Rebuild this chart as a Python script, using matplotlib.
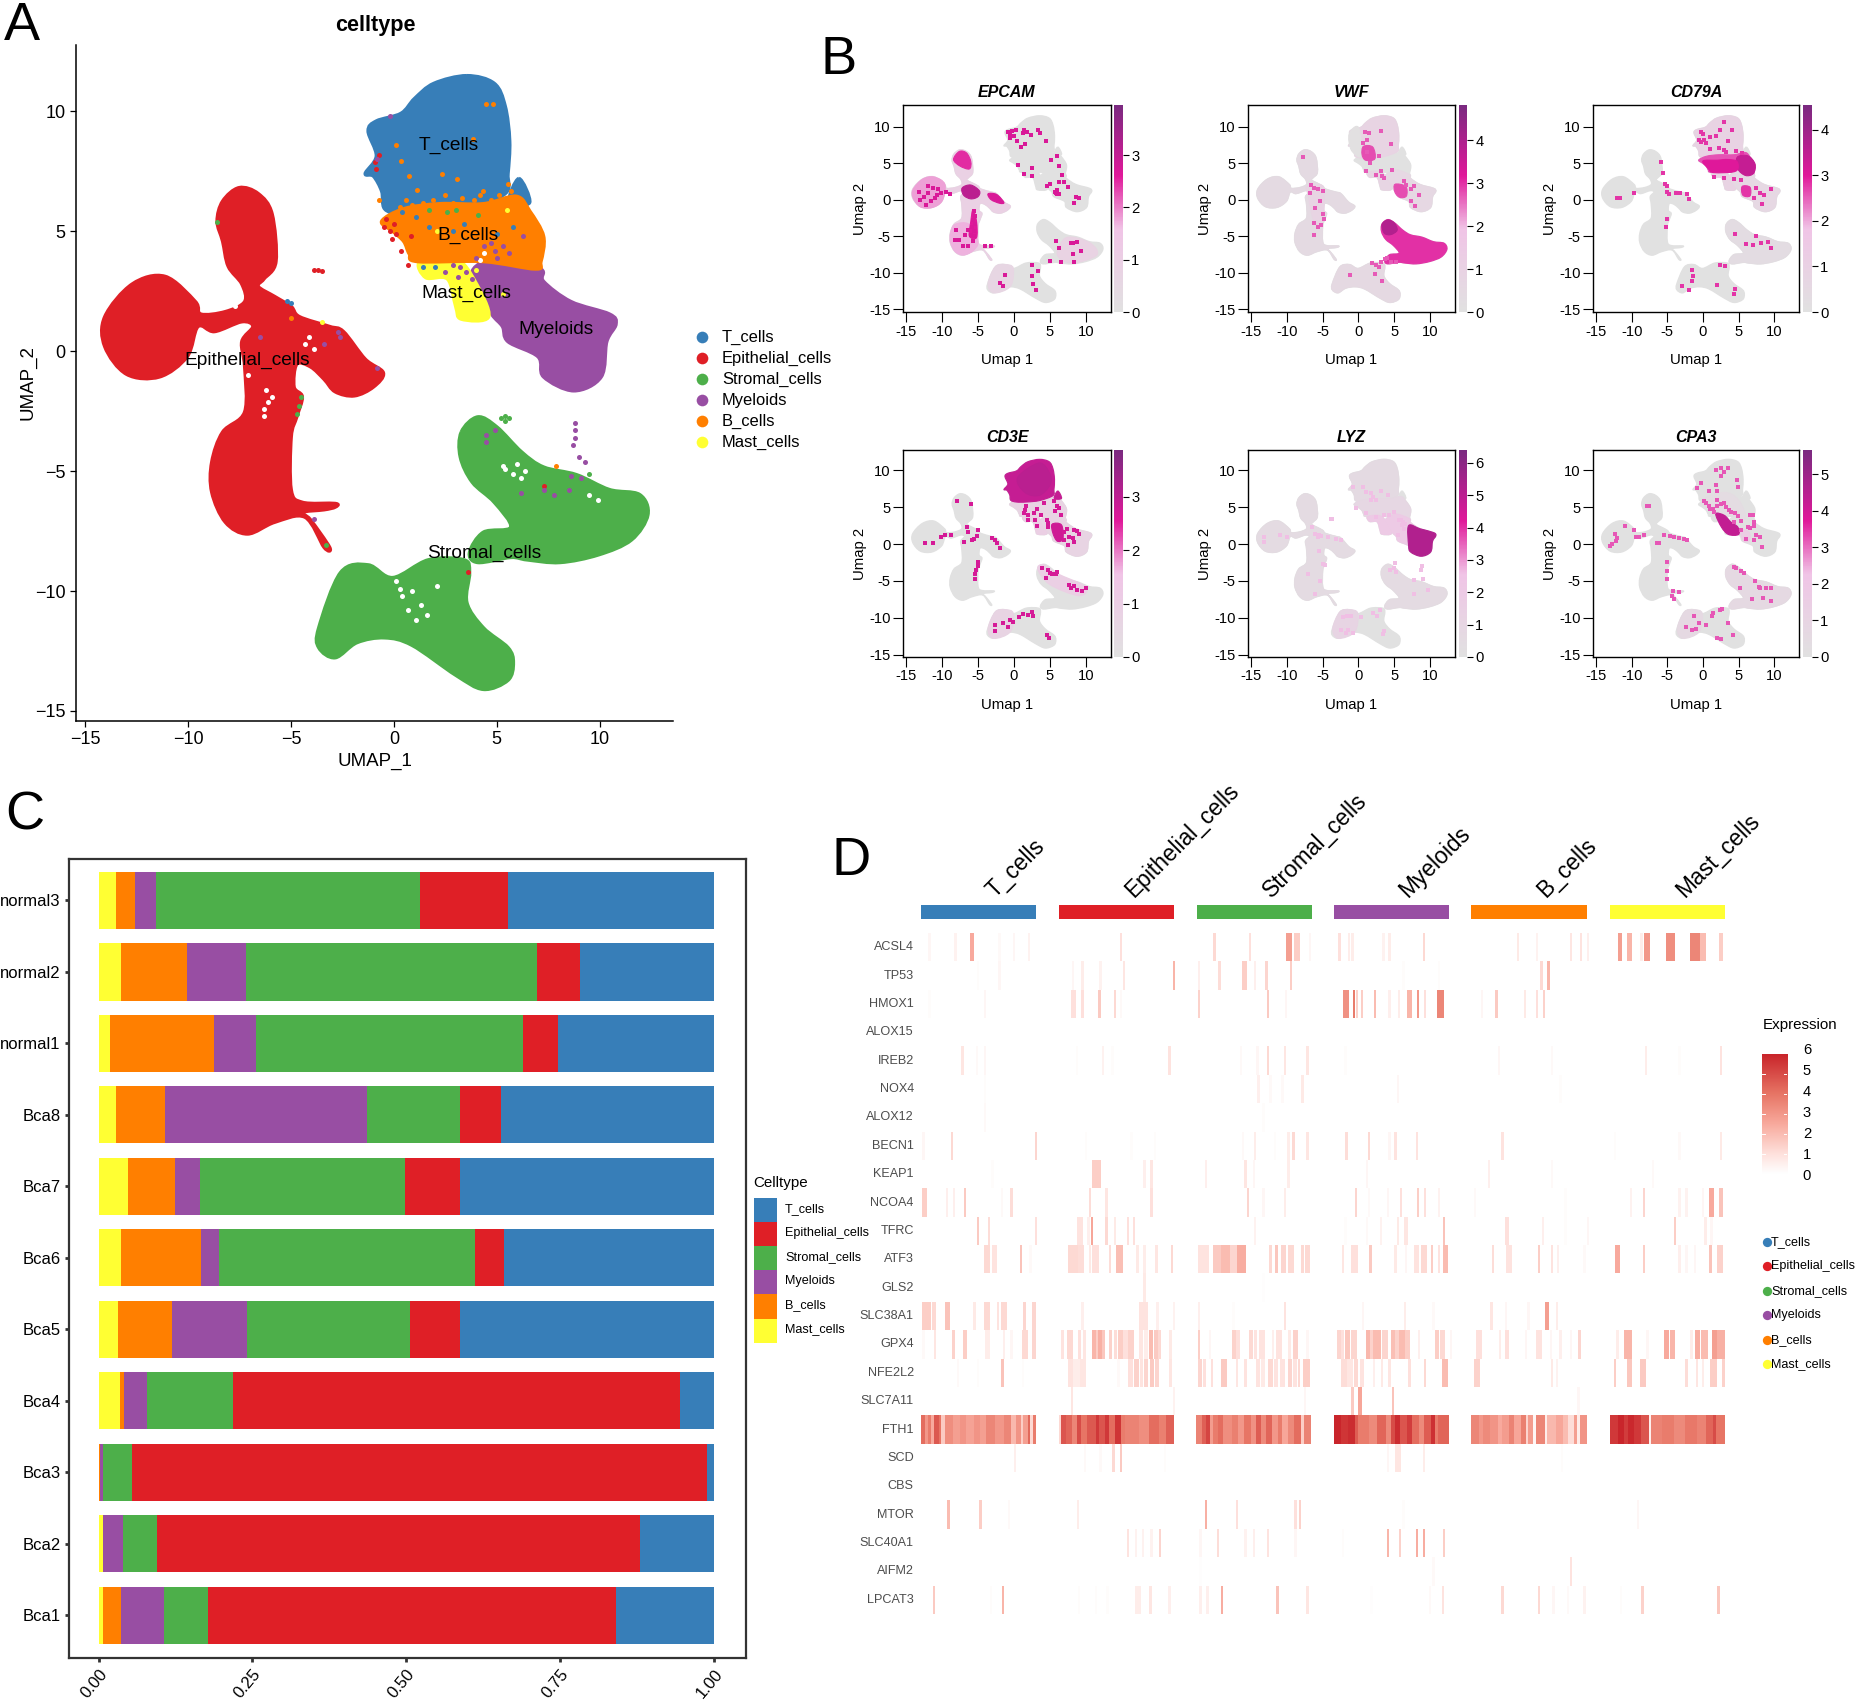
import numpy as np
import matplotlib
matplotlib.use("Agg")
import matplotlib.pyplot as plt
from matplotlib.path import Path
from matplotlib.patches import PathPatch, Rectangle
from matplotlib.colors import LinearSegmentedColormap, Normalize
from matplotlib.cm import ScalarMappable

plt.rcParams['font.family'] = ['Liberation Sans', 'DejaVu Sans']

W, H = 1859, 1700

# cell types
celltypes = ["T_cells", "Epithelial_cells", "Stromal_cells", "Myeloids", "B_cells", "Mast_cells"]
set1 = ["#377EB8", "#DF1F26", "#4DAF4A", "#984EA3", "#FF7F00", "#FFFF33"]

# umap cluster outlines
t_outline = [(3.55,11.49),(4.88,11.17),(5.41,10.23),(5.63,8.77),(5.55,7.41),(5.41,6.57),(3.55,5.9),(1.68,5.7),
             (0.35,5.7),(-0.45,5.94),(-0.59,6.67),(-0.99,7.3),(-1.39,7.41),(-0.85,8.14),(-1.25,9.18),(-0.85,9.6),
             (0.35,9.92),(1.01,10.54),(1.95,11.17)]
t_bump = [(6.08,7.2),(6.6,6.2),(5.6,6.2)]
b_outline = [(0.48,5.94),(2.21,6.15),(4.35,6.15),(5.95,6.46),(6.61,5.84),(7.28,4.79),(7.15,3.74),(6.88,3.43),
             (4.35,3.74),(1.15,3.74),(0.75,4.06),(0.48,4.58),(-0.05,5.0),(-0.59,5.42)]
mast_outline = [(1.28,3.74),(3.01,3.85),(3.95,2.91),(4.61,1.44),(3.28,1.34),(3.01,1.86),(2.61,3.01),(1.55,3.07)]
myeloid_outline = [(4.35,3.74),(5.41,4.06),(7.15,3.43),(7.28,2.91),(8.61,2.07),(10.48,1.55),(10.8,1.13),(10.35,0.4),
                   (10.08,-1.07),(8.75,-1.65),(7.28,-1.07),(7.01,-0.23),(5.55,0.4),(5.28,1.03),(4.75,1.55),(3.95,2.7),(3.81,3.33)]
epi_outline = [(-8.59,5.42),(-8.32,6.26),(-7.52,6.82),(-6.59,6.57),(-5.92,5.73),(-5.73,3.74),(-6.32,3.01),(-6.59,2.7),
               (-5.79,2.28),(-4.99,1.86),(-4.59,1.44),(-3.12,1.03),(-2.45,0.82),(-1.39,-0.33),(-0.51,-0.9),(-0.99,-1.49),
               (-1.92,-1.86),(-2.85,-1.69),(-3.39,-1.17),(-4.05,-0.65),(-4.72,-0.54),(-4.85,-1.49),(-4.45,-1.9),(-4.72,-2.74),
               (-4.99,-3.58),(-4.99,-5.77),(-4.45,-6.3),(-2.85,-6.35),(-2.85,-6.5),(-3.39,-6.61),(-4.45,-6.72),(-4.05,-7.03),
               (-3.12,-8.18),(-3.39,-8.18),(-4.32,-6.92),(-5.79,-7.13),(-7.12,-7.62),(-8.19,-7.13),(-8.85,-5.88),(-8.85,-4.62),
               (-8.32,-3.37),(-7.25,-2.53),(-7.25,-0.65),(-7.39,0.4),(-6.85,1.03),(-7.39,1.23),(-8.72,0.82),(-9.52,1.03),
               (-10.05,-0.23),(-11.39,-1.07),(-12.99,-0.96),(-14.05,0.19),(-14.05,1.44),(-12.72,2.8),(-11.12,3.12),(-9.65,2.07),
               (-9.39,1.55),(-8.19,1.65),(-7.25,2.07),(-7.39,2.8),(-8.05,3.54),(-8.32,4.58)]
stromal_up_outline = [(3.28,-3.37),(4.08,-2.74),(5.01,-3.16),(6.21,-4.2),(7.28,-4.83),(8.88,-5.15),(10.48,-5.77),(11.95,-5.98),
                      (12.35,-6.82),(11.55,-7.87),(9.95,-8.49),(8.08,-8.81),(6.48,-8.7),(5.68,-8.6),(4.08,-8.81),(3.68,-8.39),
                      (4.35,-7.55),(5.68,-7.34),(4.88,-6.3),(3.81,-5.46),(3.23,-4.41)]
stromal_low_outline = [(-3.65,-11.53),(-2.59,-9.23),(-1.25,-8.91),(-0.05,-9.44),(1.68,-8.7),(3.41,-8.7),(3.68,-9.23),(3.55,-10.48),
                       (4.35,-11.53),(5.55,-12.36),(5.81,-12.99),(5.55,-13.72),(4.35,-14.1),(3.01,-13.51),(0.88,-12.26),
                       (-0.45,-11.95),(-1.79,-12.15),(-2.85,-12.78),(-3.65,-12.36)]

# stray cells in panel A
orange_specks = [(0.35,7.93),(0.75,7.3),(1.15,6.72),(2.35,7.41),(3.07,7.2),(4.48,10.33),(4.8,10.3),(3.87,8.87),(4.35,6.67),(5.55,6.99),
                 (5.68,6.67),(-5.0,1.4),(7.9,-4.8),(0.6,6.3),(1.4,6.2),(2.5,6.5),(3.3,6.4),(4.7,6.3),(0.1,8.6),(-0.2,5.7),
                 (0.9,6.1),(1.9,6.3),(2.9,6.2),(3.9,6.3),(5.1,6.5),(5.5,6.3),(0.3,6.0),(4.2,6.5),(-0.7,6.3)]
red_specks = [(-0.9,7.9),(-0.85,7.6),(-0.7,8.2),(-0.5,5.2),(-0.2,5.0),(-0.1,4.7),(0.1,4.9),(0.35,4.2),(0.7,3.6),(-0.4,5.5),
              (3.6,-9.2),(0.85,4.8),(0.0,5.3),(-3.9,3.4),(-3.7,3.4),(-3.5,3.35),(7.3,-5.6)]
green_specks = [(-8.6,5.4),(-4.5,-1.9),(-4.6,-2.3),(-4.7,-2.6),(-3.3,-8.1),(1.7,5.9),(2.6,5.8),(3.0,5.9),(4.1,5.7),
                (5.4,-2.7),(5.4,-2.9),(5.2,-2.8),(5.6,-2.8),(9.5,-5.1)]
purple_specks = [(-6.5,0.6),(-3.4,0.3),(-2.7,0.8),(-2.6,0.6),(-0.8,-0.7),(-0.2,9.8),(-0.8,8),(4.9,-3.3),(4.5,-3.5),(4.5,-3.8),
                 (8.8,-3),(8.8,-3.3),(8.8,-3.6),(8.7,-3.9),(9,-4.4),(9.3,-4.6),(8.6,-5.2),(9.1,-5.3),(8.5,-5.8),(7.3,-5.8),(7.8,-6),
                 (6.2,-5.9),(2.9,3.6),(3.2,3.5),(4,3.9),(3.1,3.1),(2.5,3.3),(3.8,3),(5,3.9),(5.6,4.1),(4.7,4.5),(6.3,4.8),(-3.9,-7.0),
                 (4.4,4.4),(4.9,4.2),(5.3,4.4),(3.5,3.3)]
blue_specks = [(-5.2,2.1),(-5,2.0),(0.4,5.8),(1.1,5.6),(1.7,5.2),(2.9,5.0),(5,4.9),(2,3.5),(1.4,3.5),(3.4,5.3),(5.8,5.2)]
yellow_specks = [(-3.5,1.2),(5.3,2.4),(5.5,5.9),(4,3.4),(2.1,5.0)]
hole_specks = [(5.4,-4.9),(5.8,-5.1),(6.0,-4.7),(6.2,-5.3),(5.3,-4.8),(6.4,-5.0),(9.9,-6.2),(9.5,-6.0),(0.1,-9.6),(0.4,-10.2),
               (0.7,-10.8),(1.1,-11.2),(0.9,-10.0),(1.3,-10.6),(0.3,-9.9),(1.6,-11.0),(2.1,-9.8),(-6.2,-1.6),(-6.1,-2.1),(-6.3,-2.7),
               (-5.9,-1.9),(-6.3,-2.4),(-4.3,0.3),(-3.9,0.1),(-4.1,0.6),(-7.7,1.9),(-7.1,-1.0),(4.4,4.1),(4.2,3.8)]

# cluster labels in panel A
label_names = ["T_cells", "B_cells", "Mast_cells", "Myeloids", "Epithelial_cells", "Stromal_cells"]
label_x = [2.67, 3.6, 3.55, 7.87, -7.15, 4.4]
label_y = [8.58, 4.85, 2.41, 0.92, -0.4, -8.43]

# feature plots
genes = ["EPCAM", "VWF", "CD79A", "CD3E", "LYZ", "CPA3"]
gene_max = [3.96, 4.82, 4.54, 3.88, 6.4, 5.67]
gene_ticks = [[0,1,2,3], [0,1,2,3,4], [0,1,2,3,4], [0,1,2,3], [0,1,2,3,4,5,6], [0,1,2,3,4,5]]
spot_level = [2.7, 2.7, 2.8, 2.7, 2.6, 3.2]

epcam_patches = [
    (epi_outline, 0.9),
    ([(-14,0.2),(-14,1.4),(-12.7,2.8),(-11.1,3.1),(-9.6,2.1),(-10,-0.2),(-11.4,-1.1),(-13,-1)], 1.8),
    ([(-8.8,-4.6),(-8.2,-3.4),(-6.2,-3.4),(-5.0,-5.8),(-5.8,-7.1),(-7.1,-7.6),(-8.2,-7.1),(-8.8,-5.9)], 1.7),
    ([(-8.4,5.5),(-7.6,6.6),(-6.6,6.4),(-6.0,5.2),(-6.2,4.2),(-7.5,4.6)], 2.5),
    ([(-7.2,1.6),(-6.0,2.0),(-4.8,1.2),(-5.0,0.4),(-6.0,0.1),(-7.0,0.6)], 3.1),
    ([(-3.6,0.8),(-2.4,0.7),(-1.4,-0.4),(-2,-0.5),(-3.2,0)], 2.7),
    ([(-5.7,-1.4),(-5.2,-3),(-5.2,-5.2),(-6.2,-5),(-6.0,-3)], 2.6),
    ([(7.3,-5.2),(10.5,-5.9),(11.5,-7.6),(8,-8.7),(6,-7.5)], 0.8),
    ([(-3.6,-11.5),(-2.6,-9.2),(-1.2,-8.9),(-0.1,-9.4),(-0.5,-11.9),(-2.8,-12.8)], 0.6),
]
epcam_spots = [(-0.9,9.3),(-0.5,9.0),(-0.3,9.4),(-0.6,8.4),(0,8.7),(0.3,9.6),(0.4,8.1),(1.2,9.1),(1.4,9.6),(1.8,9.2),(2.3,8.9),(3.3,9.6),
               (3.6,9.1),(1.0,7.2),(1.5,7.6),(4.4,8.0),(6.0,6.0),(5.2,5.4),(6.3,4.6),(2.5,3.3),(0.5,4.7),(1.4,3.5),(2.5,4.3),(6.7,3.4),
               (5.0,2.2),(6.2,2.4),(6.9,2.4),(4.6,1.9),(5.8,1.1),(6.0,0.8),(7.5,1.7),(8.6,0.4),(8.3,-0.4),(9.0,0.2),(5.7,1.1),(5.9,0.9),
               (6.0,1.3),(6.2,0.7),(-5.6,-1.6),(-5.4,-2.2),(-5.7,-2.8),(-5.4,-3.4),(-5.8,-3.8),(-5.5,-4.3),(-6.0,-4.8),(-5.6,-5.0),(-6.4,-4.1),
               (-5.7,-5.7),(-6.4,-6.3),(-4.0,-6.4),(-3.2,-6.4),(7.9,-5.9),(8.2,-5.9),(8.7,-5.8),(5.9,-5.7),(6.2,-6.6),(9.3,-7.1),(8.2,-7.4),
               (6.5,-8.6),(5.0,-8.4),(8.4,-8.6),(2.5,-9.0),(3.3,-9.8),(-1.9,-11.4),(-1.5,-11.9),(-1.2,-10.3),(2.7,-11.6),(3.0,-12.4),(2.5,-10.5),
               (-11.2,1.6),(-11.9,0.9),(-12.5,0.4),(-13.2,1),(-10.7,0.6),(-10.2,0.9),(-9.5,1.0),(-8.9,0.8),(-11.5,-0.2),(-12.2,-0.7),(-13,0),
               (-10.5,1.5),(-12,1.8),(-11,0.2),(-7.6,-5.5),(-8.2,-5.6),(-7.1,-6.3),(-6.8,-4.8),(-8,-4.2)]

vwf_patches = [
    (epi_outline, 0.45),
    (t_outline, 0.9),
    ([(-1.3,9.0),(-1,6.8),(0.4,6),(0,9.9)], 0.1),
    (myeloid_outline, 0.6),
    (mast_outline, 0.8),
    (stromal_low_outline, 0.55),
    (stromal_up_outline, 3.0),
    ([(3.3,-3.4),(4.1,-2.8),(5.0,-3.2),(5.4,-4.2),(4.5,-4.8),(3.6,-4.6)], 3.9),
    ([(0.7,7.3),(2.0,7.2),(2.3,5.6),(1.0,5.4),(0.5,6.2)], 2.8),
    ([(5.1,2.1),(6.6,1.8),(6.7,0.5),(5.8,0.3),(5.1,1)], 2.8),
    ([(-7.2,1.8),(-5.2,2.0),(-4.8,0.8),(-5.0,-3),(-6.2,-3),(-7,0.5)], 0.9),
]
vwf_spots = [(0.9,9.3),(1.5,9.1),(1.2,8.2),(0.7,7.7),(3.2,9.4),(4.6,7.6),(1.6,5.0),(2.5,3.4),(3.3,3.2),(3.6,2.9),(4.7,4.0),(6.4,2.5),
             (7.8,1.9),(8.4,0.6),(7.3,-0.2),(7.9,-0.9),(6.7,2.0),(7.4,1.5),(-6.6,2.0),(-6.2,1.6),(-5.6,1.5),(-6.7,0.9),(-5.4,-0.2),(-5.0,-2),
             (-5.2,-3.5),(-5.7,-3.7),(-6.2,-3.2),(-4.8,-2.7),(-6.2,-4.8),(-7.8,5.8),(-6.0,-1.1),(-5.0,1.2),(2.4,-8.9),(2.8,-9.3),(-1.2,-10.4),
             (3.3,-11.2),(2.3,-10.2),(1.9,-8.7),(3.1,-8.5),(3.7,-8.2),(4,-8.0),(4.6,-8.6),(5.2,-8.5),(1.2,6.5),(2.8,6.0),(3.1,3.9),(1.0,3.9)]

cd79a_patches = [
    (t_outline, 0.9),
    (b_outline, 2.6),
    (mast_outline, 0.9),
    (myeloid_outline, 0.6),
    (stromal_up_outline, 0.3),
    ([(4.8,5.8),(6.3,6.0),(7.3,4.9),(7.1,3.6),(6,3.3),(4.9,4.2)], 3.4),
    ([(0,5.3),(2,5.4),(3.5,5.5),(4.8,5.2),(4.6,3.9),(1.5,3.7),(0.8,4.2)], 3.0),
    ([(5.5,1.8),(6.6,1.7),(6.6,0.5),(5.6,0.6)], 2.8),
]
cd79a_spots = [(-0.3,9.3),(0,9),(0.2,8.2),(-0.5,8.2),(-0.2,7.9),(0.5,7.7),(1.0,8.6),(1.9,8.7),(2.4,9.6),(3,10.6),(4.1,9.5),(3.5,8.0),(2.3,7.1),
               (1,7.0),(2.9,6.8),(4.6,6.6),(5.5,6.4),(3.3,6.5),(1.5,3.1),(3,2.9),(4.4,2.8),(5.3,2.7),(7.4,1.6),(8,0.9),(8.5,0.6),(9.6,1.4),
               (7.2,0.2),(8.3,-0.6),(-5.9,5.1),(-5.6,3.6),(-5.3,2.2),(-5,1),(-4.8,0.8),(-3.8,0.9),(-3.2,0.9),(-2.2,0.8),(-1.9,0.1),(-5,-2.6),
               (-5.2,-3.8),(-12,0.2),(-11.6,0.2),(-9.7,0.9),(-5,1.8),(4.5,-4.7),(6.1,-6.1),(7.5,-5),(8.2,-5.9),(9.2,-5.8),(7.0,-6.2),(9.5,-6.6),
               (2.4,-8.9),(3.1,-9.1),(-1.5,-9.7),(-1.4,-10.5),(-1.5,-11.1),(-2.9,-11.9),(-2,-12.4),(4.4,-12.9),(4.5,-12.2),(2,-11.7)]

cd3e_patches = [
    (b_outline, 0.7),
    (mast_outline, 1.0),
    (myeloid_outline, 0.7),
    (t_outline, 2.9),
    (t_bump, 2.9),
    ([(0.5,9),(3.5,11),(5,9.5),(5,8),(3.5,6.6),(1.5,7)], 3.05),
    ([(3.3,-3.4),(4.1,-2.8),(6,-4),(10,-5.8),(9,-7),(5,-5.5)], 1.0),
    ([(-3.6,-11.5),(-2.6,-9.2),(-1.2,-8.9),(-0.1,-9.4),(-0.5,-11.9),(-2.8,-12.8)], 0.7),
    ([(5.3,2.7),(6.6,2.6),(6.8,0.7),(6,0.4),(5.4,1.5)], 2.8),
]
cd3e_spots = [(1.6,4.6),(2,3.9),(2.8,4.2),(3.2,4.7),(4.2,5.6),(5.5,5.8),(6,5.1),(5.7,4.5),(6.3,4.9),(6.6,4),(2,3.3),(2.9,3.2),(3.8,3.9),(4.6,3.3),
              (4.7,2.8),(3.2,2.4),(4.7,2.3),(6.9,1.7),(7.4,2),(8.4,1.9),(8.8,1.8),(9,1.3),(7.7,0.9),(8.2,0.8),(7,0.5),(8.3,0.3),(7.5,-0.1),(1.7,5.1),
              (1.4,4.2),(-7.9,5.9),(-6.0,5.4),(-6.5,2.3),(-6.4,1.7),(-5,1.9),(-5.6,0.7),(-5.9,0.5),(-5.2,1.1),(-6.9,0.3),(-8.8,1.2),(-9.6,1.2),
              (-10.1,0.9),(-11.3,0.2),(-12.4,0.2),(-3,0.8),(-2.7,0.5),(-2.3,0.2),(-2,-0.6),(-5.0,-2.5),(-5,-3),(-5.3,-3.5),(-5.4,-4),(-5.4,-4.8),
              (3.9,-3.2),(4.7,-3.5),(5,-3.9),(5.3,-4),(5.9,-4.1),(6,-3.8),(4.5,-4.6),(7.7,-5.5),(8.4,-5.7),(7.9,-6),(8.8,-6.2),(10,-6),(9.5,-6.3),
              (2.5,-9.2),(2.7,-9.7),(1.9,-9.6),(1.2,-9.5),(0.7,-9.9),(-1.5,-10.7),(-0.6,-10.3),(-0.2,-10.6),(-2.6,-11),(-2.7,-11.8),(-0.8,-11.2),
              (4.6,-12.4),(4.9,-12.7)]

lyz_patches = [
    (epi_outline, 0.5),
    (t_outline, 0.6),
    (b_outline, 0.9),
    (mast_outline, 2.0),
    (myeloid_outline, 2.0),
    ([(7,2.5),(8.6,2.07),(10.5,1.55),(10.8,1.13),(10.35,0.4),(10.08,-1.07),(8.75,-1.65),(7.28,-1.07),(7.0,-0.2)], 5.2),
    ([(-3.6,-11.5),(-2.6,-9.2),(-1.2,-8.9),(-0.1,-9.4),(-0.5,-11.9),(-2.8,-12.8)], 1.1),
    (stromal_up_outline, 0.5),
]
lyz_spots = [(0.7,7.8),(1,7),(1.7,6.9),(1.8,6),(2,6.4),(2.4,6),(3.2,7.2),(4.1,6.7),(-0.7,7.7),(-0.3,4.9),(1,4.2),(2.5,3.7),(3.6,3.9),(4.3,4),(5,4.4),
             (6,3.2),(6.1,2.6),(5.6,3.3),(6.3,2),(5.5,1.2),(6.2,3),(6.5,2.7),(-6.5,2.3),(-6,1.4),(-5.5,1.2),(-5.2,1.1),(-4.2,0.9),(-3.2,0.7),
             (-2.5,0.5),(-5,-2.7),(-4.7,-2.9),(-5.5,-1),(-7,-4),(-5.3,-5),(-6,-6.8),(-13.2,0.9),(-13.2,0.3),(-11,1.2),(-10,1),(-3.9,3.4),(-3.7,3.4),
             (-5.6,0.9),(5.1,-2.6),(5,-3.3),(4.4,-3.5),(5.3,-3.8),(8.9,-3),(8.8,-3.5),(9,-4.7),(9.7,-6.2),(7.7,-4.9),(7.8,-6.8),(3.4,-12.2),(3.5,-11.8),
             (2.1,-9.3),(3,-9),(2.6,-9.7),(0.4,-9.9),(-1.8,-12),(-1.4,-11.7),(-0.8,-12),(-1.6,-9.7),(-1,-9.7),(-2.2,-9.9),(-2.5,-11.6)]

cpa3_patches = [
    (stromal_up_outline, 0.6),
    ([(-3.6,-11.5),(-2.6,-9.2),(-1.2,-8.9),(-0.1,-9.4),(-0.5,-11.9),(-2.8,-12.8)], 0.6),
    ([(0,6),(3,7),(5,6),(6,3.5),(4,3.8),(1.5,4.2)], 0.4),
    ([(5.3,1.9),(6.5,1.6),(6.5,0.5),(5.7,0.4)], 1.5),
    ([(1.8,4.1),(3.0,3.9),(3.9,3.0),(4.9,2.3),(5,1.3),(3.6,1.3),(2.6,2.3)], 4.3),
]
cpa3_spots = [(0.1,5.8),(0.4,5.6),(0.9,5.2),(1.0,4.7),(1.4,4.7),(1.5,4.3),(2,5.1),(2,6),(2.5,5.4),(3,5.6),(3.2,5),(3.6,4.6),(4,4.3),(4.5,4.2),(4.9,3.8),
              (4.4,3),(5.3,3.1),(-0.8,7.6),(0.9,7.2),(1.8,8.0),(2,7.2),(1.9,10),(2.6,10.3),(3.5,10.3),(3,9.8),(2.5,9.3),(4.8,8.7),(4.9,7.8),(6.6,4),(7,4),
              (7.2,3.0),(6.3,2.3),(6.6,2.2),(7.1,2.4),(7.4,1.2),(7.2,0.5),(8,1),(-0.3,8.3),(5.4,1.9),(6,0.7),(8.3,-0.4),(-7.9,5.2),(-7.5,5.1),(-9.6,1.9),
              (-9.4,1.0),(-8.9,1),(-8.2,1.2),(-12.3,1.4),(-12.0,0.8),(-12.2,0.4),(-13.1,-0.2),(-12.7,0),(-11,2.5),(-6.5,0.2),(-6.1,0.1),(-5.4,1.2),
              (-4.6,1.1),(-4,1.0),(-3.3,0.8),(-2.7,0.7),(-2.3,0.6),(-5.1,-2.5),(-5.1,-3.7),(-5,-4.7),(-4.2,-6.4),(-3.3,-6.5),(-4.3,-7),(-4,-7.4),(4.4,-3.1),
              (4.6,-3.2),(5.4,-3.7),(5.7,-3.9),(7.3,-5),(7.8,-5.8),(8,-5.9),(8.8,-5.9),(9.5,-5.9),(8.4,-7.3),(9.6,-7.7),(5.2,-6),(6.9,-7.5),(2.4,-8.9),
              (2.7,-8.8),(1.4,-9.3),(1.3,-9.7),(-1.2,-9.7),(-1.6,-11.6),(-2.4,-11.2),(-0.5,-10.7),(2,-12.7),(2.5,-12.9),(4.2,-12.4),(3.5,-10.7),(-1,-11.5),(0.4,-11)]

gene_patches = [epcam_patches, vwf_patches, cd79a_patches, cd3e_patches, lyz_patches, cpa3_patches]
gene_spots = [epcam_spots, vwf_spots, cd79a_spots, cd3e_spots, lyz_spots, cpa3_spots]

# proportions per sample, panel C
samples = ["Bca1", "Bca2", "Bca3", "Bca4", "Bca5", "Bca6", "Bca7", "Bca8", "normal1", "normal2", "normal3"]
mast_prop = [.008, .007, .001, .035, .031, .037, .048, .029, .019, .037, .029]
b_prop = [.028, .000, .002, .007, .088, .130, .077, .079, .169, .107, .031]
myeloid_prop = [.071, .033, .005, .037, .123, .029, .040, .329, .068, .096, .034]
stromal_prop = [.071, .055, .046, .140, .264, .416, .333, .151, .434, .472, .429]
epi_prop = [.663, .785, .934, .725, .081, .046, .089, .066, .056, .071, .142]
t_prop = [.159, .120, .012, .056, .413, .342, .413, .346, .254, .217, .335]

# heatmap, panel D: (cell, expr) or (first cell, last cell, expr)
heat_genes = ["ACSL4", "TP53", "HMOX1", "ALOX15", "IREB2", "NOX4", "ALOX12", "BECN1", "KEAP1", "NCOA4", "TFRC", "ATF3",
              "GLS2", "SLC38A1", "GPX4", "NFE2L2", "SLC7A11", "FTH1", "SCD", "CBS", "MTOR", "SLC40A1", "AIFM2", "LPCAT3"]
acsl4 = [(6,.3),(28,.4),(41,45,2.5),(65,.2),(77,.3),(90,.4),(167,1.0),(246,1.2),(276,1.0),(307,312,2.8),(314,319,1.5),(326,.3),(351,1.0),(359,.6),
         (362,.6),(388,.4),(393,.6),(422,1.2),(501,.7),(517,.4),(546,.8),(554,.9),(560,.5),(586,590,2.8),(594,598,2.2),(605,.6),(608,613,3),
         (627,634,3.3),(647,655,3.5),(655,660,2),(671,675,1.5)]
tp53 = [(47,.1),(65,.3),(127,.3),(135,.6),(150,.4),(170,.8),(212,2.2),(233,.5),(250,1.1),(270,274,1.5),(280,.5),(289,292,1.3),(310,1.5),(405,.1),(435,.1),
        (521,1.2),(527,2.2)]
hmox1 = [(6,.1),(53,.3),(126,130,1.0),(135,1.0),(149,1.6),(162,1.2),(167,.2),(233,1.4),(291,1.6),(306,.3),(355,360,3.2),(363,3.8),(366,1.4),(370,1.5),
         (381,2),(393,.5),(401,.6),(409,413,2.2),(417,3),(423,1),(434,440,3.5),(471,.3),(483,1.6),(507,.7),(517,1.0),(523,1.4)]
alox15 = []
ireb2 = [(34,.8),(46,.2),(53,.3),(130,.1),(152,.4),(160,.1),(208,210,.9),(268,.2),(282,.3),(291,1.2),(305,.8),(324,.8),(356,.1),(485,.3),(530,.2),(609,.6),
         (637,.1),(672,.9)]
nox4 = [(53,.1),(283,.5),(293,.2),(303,.2),(320,.7),(400,.3),(537,.1)]
alox12 = [(53,.2),(287,.1)]
becn1 = [(1,.3),(25,1.2),(96,1.3),(138,.1),(176,.1),(196,.1),(270,.2),(280,.6),(297,.1),(308,.6),(312,315,1.2),(324,.8),(357,1.1),(376,1.2),(393,.3),(398,.9),
         (416,.9),(488,.9),(583,.1),(637,.2),(672,.7)]
keap1 = [(59,.1),(144,151,1.5),(187,.5),(193,.8),(239,.5),(272,.8),(279,.3),(308,.6),(374,.3),(477,.5),(530,.2),(615,.2)]
ncoa4 = [(1,5,1.5),(21,.5),(27,.5),(36,1.6),(67,.2),(75,1.1),(141,1.1),(155,.8),(193,1),(274,1.3),(287,.3),(305,.6),(365,1.3),(376,.2),(392,.3),(403,1),
         (417,1.5),(423,1),(435,.4),(465,.2),(541,.1),(596,.4),(607,1.3),(637,.4),(643,.4),(657,.3),(663,667,2.5),(671,675,1.8)]
tfrc = [(47,1.6),(56,1.1),(96,1),(131,136,.9),(140,.5),(143,2.6),(155,1.2),(162,.7),(173,1),(178,1),(280,.4),(356,.1),(374,.2),(386,.4),(400,.7),(406,410,.8),
        (439,1.8),(491,495,1),(522,.5),(541,.1),(560,.3),(633,1.5),(659,.6),(664,.3)]
atf3 = [(53,58,1.2),(60,64,.9),(83,1.8),(91,.2),(124,132,1.2),(132,137,1.1),(141,.7),(144,150,1),(158,1.1),(164,170,1.9),(181,.7),(187,.6),(197,.8),(210,1.2),
        (233,242,.9),(246,252,1.6),(252,260,2),(260,266,1.3),(266,273,2.4),(293,1.2),(298,1.7),(303,307,1.3),(309,314,1.2),(320,1.2),(323,327,1.2),(354,.8),
        (362,368,1.0),(377,1.6),(398,.7),(407,.3),(415,419,.9),(421,426,1.2),(429,1.5),(435,.9),(439,443,2),(480,1.1),(492,497,.9),(519,1.5),(530,.9),(535,.5),
        (557,.2),(584,588,2.5),(607,1.5),(637,.5),(643,.3),(650,.3),(663,1.8),(670,675,1.4)]
gls2 = [(187,.7),(287,.05)]
slc38a1 = [(1,8,1.5),(9,13,1.2),(20,24,1.8),(44,.7),(53,58,1.2),(64,.9),(67,72,1.2),(86,1.3),(93,97,1.3),(135,.5),(183,191,.9),(198,.5),(212,.4),(233,.5),(262,.1),
           (305,.9),(371,.3),(406,.6),(430,.2),(479,.8),(491,.3),(510,.3),(525,528,2.8),(534,.6)]
gpx4 = [(1,.2),(11,.8),(26,29,1.4),(35,39,1.5),(54,58,.6),(69,.5),(75,.3),(85,90,1.2),(93,97,1.3),(118,.9),(123,128,1.2),(132,135,1),(136,139,.8),(144,147,2.2),(147,149,1.5),
        (149,152,2.3),(152,155,1.7),(158,161,1.4),(162,165,1.1),(166,170,1.5),(170,174,1.0),(174,179,1.4),(183,187,.8),(188,191,.6),(192,195,2),(196,199,1.6),(199,202,1.2),(209,.7),
        (233,1.5),(242,.3),(262,265,1.4),(265,268,1.0),(276,279,1.2),(280,283,.9),(284,289,.9),(295,.5),(299,304,.9),(309,.7),(313,317,1.4),(324,.3),(350,353,1.3),(353,356,1.0),
        (357,361,1.7),(362,367,1.3),(374,378,2.1),(378,380,1.4),(380,387,2),(388,393,1.3),(395,399,1.9),(399,402,1.4),(402,407,2),(407,411,1.5),(418,.5),(432,436,1.5),(437,441,1.2),
        (445,.3),(467,472,1.0),(486,.6),(491,495,1),(508,.3),(517,522,.9),(529,.3),(537,.5),(546,.3),(553,1.3),(585,.6),(591,598,2.2),(610,.3),(625,629,2.5),(630,634,2.2),(647,.6),
        (651,655,2.4),(656,662,2.0),(665,670,2.8),(670,676,2.3)]
nfe2l2 = [(30,.2),(47,.1),(67,70,1.8),(85,.1),(124,128,.9),(128,134,.6),(134,139,.8),(165,.2),(174,178,1.0),(179,183,1.4),(184,187,.9),(188,191,1.3),(193,196,1.6),(197,200,1.3),
          (209,.8),(233,236,1.3),(237,240,1.0),(244,1),(252,257,1.6),(265,.8),(272,.9),(282,285,.9),(286,289,.7),(292,296,1.2),(297,300,.9),(302,306,.9),(309,312,1.3),(313,316,.9),
          (317,319,1.2),(321,327,1.5),(353,358,1.1),(358,363,.8),(364,368,1.2),(369,373,.9),(380,.5),(387,.7),(393,.8),(410,1),(423,1.2),(438,443,2),(465,470,1.4),(530,.7),(534,.4),
          (583,1.5),(594,598,1.7),(605,610,1.6),(643,1.1),(652,.8),(657,.6),(664,670,1.5),(674,1.4)]
slc7a11 = [(126,.8),(212,.4),(322,.3),(362,1.6),(368,371,2.6),(396,1.8),(552,.3)]
fth1 = [(0,3,4.2),(3,6,3),(6,8,3.8),(8,11,2.5),(11,15,4.7),(15,17,4),(17,20,1.6),(20,27,3.3),(27,33,2.8),(33,38,3.1),(38,45,2.7),(45,50,3.1),(50,55,2.8),(55,62,3.5),
        (62,70,3.0),(70,76,3.5),(76,80,2.1),(80,84,3.1),(84,86,1.5),(86,90,2.8),(90,92,4.3),(92,94,1.2),(94,97,3.8),
        (116,118,1.2),(118,122,4.8),(122,127,4.4),(127,131,3.5),(131,135,5),(135,140,4.0),(140,147,4.7),(147,150,5.5),(150,155,4.8),(155,158,5.5),(158,163,4.2),
        (163,168,5.6),(168,172,3.8),(172,183,3.6),(183,192,3.3),(192,200,4.2),(200,206,3.7),(206,213,4.5),
        (231,236,3.6),(236,240,4.5),(240,243,5.2),(243,246,2.9),(246,250,3.8),(250,254,4.2),(254,262,3.3),(262,267,3.7),(267,272,3.0),(272,278,4.0),(278,282,3.2),
        (282,286,4.6),(286,290,3.4),(290,295,4.4),(295,300,3.0),(300,304,3.8),(304,309,2.6),(309,314,3.4),(314,320,4.2),(320,322,1.5),(322,328,3.6),
        (347,353,6),(353,359,5.6),(359,365,5.8),(365,368,4.6),(368,377,3.8),(377,384,3.4),(384,391,4.4),(391,395,3.4),(395,399,5),(399,403,5.8),(403,409,4.8),
        (409,413,5.4),(413,419,4.2),(419,423,3.4),(423,429,4.6),(429,432,5.7),(432,435,3.8),(435,444,4.4),
        (463,469,3.5),(469,473,3.0),(473,479,3.4),(479,485,3.1),(485,489,2.5),(489,495,2.9),(495,499,3.6),(499,505,2.6),(505,509,3.7),(509,511,1.3),(511,515,2.9),
        (515,517,.3),(517,525,3.5),(525,527,.6),(527,534,2.1),(534,540,2.6),(540,544,2.0),(544,549,1.1),(549,552,2.8),(552,554,.6),(554,560,3.1),
        (580,586,5.5),(586,591,6),(591,595,5.4),(595,600,5.9),(600,606,5.5),(606,612,4.8),(612,614,.5),(614,623,3.6),(623,633,3.8),(633,643,3.4),(643,653,3.9),
        (653,660,3.6),(660,666,4.4),(666,669,5),(669,676,4)]
scd = [(78,.5),(137,.2),(150,.2),(161,1.2),(167,1.6),(204,.1),(392,.3),(399,404,.8),(422,.6),(538,.1)]
cbs = []
mtor = [(22,2),(49,1.5),(73,.2),(131,.6),(239,2.3),(265,1),(314,1),(318,1.4),(405,.1),(602,.3)]
slc40a1 = [(173,.9),(180,.4),(186,.4),(193,.4),(200,1.3),(234,.3),(249,1.1),(272,.4),(279,.5),(291,.9),(314,.3),(354,.1),(392,2.2),(402,1.4),(416,2.4),(422,2.4),(439,1.5)]
aifm2 = [(234,.05),(430,.2),(546,.9)]
lpcat3 = [(10,1.6),(58,.1),(68,70,2.2),(132,.1),(146,.1),(156,.1),(180,185,.6),(192,.8),(208,.5),(234,.5),(240,.5),(252,2.4),(299,1.8),(324,.8),(378,.05),(427,.2),
          (438,.9),(488,1.2),(519,1.2),(531,.3),(543,.2),(557,.4),(588,.1),(606,1.4),(670,1.7)]
heat_rows = [acsl4, tp53, hmox1, alox15, ireb2, nox4, alox12, becn1, keap1, ncoa4, tfrc, atf3, gls2, slc38a1, gpx4, nfe2l2, slc7a11, fth1, scd, cbs, mtor,
             slc40a1, aifm2, lpcat3]
group_cells = [(0, 97), (116, 213), (232, 329), (347, 444), (463, 560), (580, 676)]
n_cells = 678


def px_axes(l, t, r, b, **kw):
    return fig.add_axes([l / W, 1 - b / H, (r - l) / W, (b - t) / H], **kw)


def blob(ax, outline, color, lw=2.5, z=2):
    # closed bezier through the read vertices, so the outlines stay full and round
    pts = np.array(outline, dtype=float)
    before = np.roll(pts, 1, axis=0)
    after = np.roll(pts, -1, axis=0)
    after2 = np.roll(pts, -2, axis=0)
    verts = [pts[0]]
    codes = [Path.MOVETO]
    for p0, p1, p2, p3 in zip(before, pts, after, after2):
        verts += [p1 + (p2 - p0) / 6, p2 - (p3 - p1) / 6, p2]
        codes += [Path.CURVE4, Path.CURVE4, Path.CURVE4]
    ax.add_patch(PathPatch(Path(verts, codes), fc=color, ec=color, lw=lw, joinstyle='round', zorder=z))


fig = plt.figure(figsize=(W / 100, H / 100), dpi=100)

# overlay for panel letters and hand placed legends
ov = fig.add_axes([0, 0, 1, 1], zorder=20)
ov.set_xlim(0, W)
ov.set_ylim(H, 0)
ov.axis('off')
ov.patch.set_alpha(0)
for letter, lx, ly in [("A", 4, 26), ("B", 821, 60), ("C", 5, 815), ("D", 832, 861)]:
    ov.text(lx, ly, letter, fontsize=39, ha='left', va='center', color='black')

# ---- A ----
ax = px_axes(76, 45, 673, 721)
ax.set_xlim(-15.45, 13.57)
ax.set_ylim(-15.42, 12.77)
blob(ax, t_outline, set1[0])
blob(ax, t_bump, set1[0])
blob(ax, epi_outline, set1[1])
blob(ax, stromal_up_outline, set1[2])
blob(ax, stromal_low_outline, set1[2])
blob(ax, myeloid_outline, set1[3])
blob(ax, mast_outline, set1[5], z=3)
blob(ax, b_outline, set1[4], z=3)
for pts, col in [(hole_specks, 'white'), (orange_specks, set1[4]), (red_specks, set1[1]), (green_specks, set1[2]),
                 (purple_specks, set1[3]), (blue_specks, set1[0]), (yellow_specks, set1[5])]:
    xy = np.array(pts)
    ax.scatter(xy[:, 0], xy[:, 1], s=13, color=col, lw=0, zorder=4)
for name, lx, ly in zip(label_names, label_x, label_y):
    ax.text(lx, ly, name, fontsize=13.8, ha='center', va='center', zorder=5)
ax.spines[['top', 'right']].set_visible(False)
ax.spines[['left', 'bottom']].set_linewidth(1.1)
ax.set_xticks([-15, -10, -5, 0, 5, 10])
ax.set_yticks([-15, -10, -5, 0, 5, 10])
ax.tick_params(labelsize=13, length=4, width=0.9)
ax.set_xlabel("UMAP_1", fontsize=13.5, labelpad=3)
ax.set_ylabel("UMAP_2", fontsize=13.5, labelpad=-1)
ov.text(375, 25, "celltype", fontsize=15.6, fontweight='bold', ha='center', va='center')
for i, name in enumerate(celltypes):
    y = 337 + i * 21
    ov.plot([702], [y], 'o', ms=8.4, color=set1[i], mew=0)
    ov.text(722, y, name, fontsize=11.9, ha='left', va='center')

# ---- B ----
pink = LinearSegmentedColormap.from_list("pink_expr", [(0, "#E1E1E1"), (0.4, "#F0C4E6"), (0.66, "#E0189A"), (1, "#7A2A80")])
col_left = [903, 1248, 1593]
col_right = [1111, 1455, 1799]
cbar_left = [1114, 1459, 1803]
cbar_right = [1123, 1467, 1812]
row_top = [105, 450]
row_bottom = [312, 657]
row_ylim = [(-15.41, 12.97), (-15.32, 12.76)]
base_outlines = [t_outline, t_bump, b_outline, mast_outline, myeloid_outline, epi_outline, stromal_up_outline, stromal_low_outline]
for g, gene in enumerate(genes):
    r, c = divmod(g, 3)
    ax = px_axes(col_left[c], row_top[r], col_right[c], row_bottom[r])
    ax.set_xlim(-15.42, 13.48)
    ax.set_ylim(*row_ylim[r])
    norm = Normalize(0, gene_max[g])
    for outline in base_outlines:
        blob(ax, outline, pink(0.0), lw=1.0)
    for outline, val in gene_patches[g]:
        blob(ax, outline, pink(norm(val)), lw=0.8, z=3)
    xy = np.array(gene_spots[g])
    ax.scatter(xy[:, 0], xy[:, 1], s=5, marker='s', color=pink(norm(spot_level[g])), lw=0, zorder=4)
    ax.set_xticks([-15, -10, -5, 0, 5, 10])
    ax.set_xticklabels(["-15", "-10", "-5", "0", "5", "10"])
    ax.set_yticks([-15, -10, -5, 0, 5, 10])
    ax.set_yticklabels(["-15", "-10", "-5", "0", "5", "10"])
    ax.tick_params(labelsize=10.6, length=7, width=0.8, pad=2)
    for sp in ax.spines.values():
        sp.set_linewidth(1.0)
    ax.set_xlabel("Umap 1", fontsize=10.7, labelpad=10.5)
    ax.set_ylabel("Umap 2", fontsize=10.7, labelpad=1.5)
    ax.set_title(gene, fontsize=11.5, fontweight='bold', fontstyle='italic', pad=6)
    cax = px_axes(cbar_left[c], row_top[r], cbar_right[c], row_bottom[r])
    cb = fig.colorbar(ScalarMappable(norm=norm, cmap=pink), cax=cax)
    cb.set_ticks(gene_ticks[g])
    cb.ax.tick_params(labelsize=10.6, length=4, width=0.8, pad=2)
    cb.outline.set_visible(False)

# ---- C ----
ax = px_axes(69, 859, 746, 1658)
ypos = np.arange(len(samples))
left = np.zeros(len(samples))
series = [(mast_prop, set1[5]), (b_prop, set1[4]), (myeloid_prop, set1[3]), (stromal_prop, set1[2]), (epi_prop, set1[1]), (t_prop, set1[0])]
for vals, col in series:
    ax.barh(ypos, vals, left=left, height=0.8, color=col, lw=0)
    left = left + np.array(vals)
ax.set_xlim(-0.048, 1.052)
ax.set_ylim(-0.60, 10.58)
ax.set_yticks(ypos)
ax.set_yticklabels(samples)
ax.set_xticks([0, 0.25, 0.5, 0.75, 1.0])
ax.set_xticklabels(["0.00", "0.25", "0.50", "0.75", "1.00"], rotation=50, ha='right', rotation_mode='anchor')
ax.tick_params(labelsize=12, length=3, width=2, color='#333333', pad=3)
for sp in ax.spines.values():
    sp.set_linewidth(1.6)
    sp.set_color('#333333')
ov.text(753, 1183, "Celltype", fontsize=10.9, ha='left', va='center')
for i, name in enumerate(celltypes):
    ov.add_patch(Rectangle((754, 1198 + i * 24.1), 23, 24.1, fc=set1[i], ec='none'))
    ov.text(785, 1209 + i * 24.1, name, fontsize=9.1, ha='left', va='center')

# ---- D ----
heat = np.zeros((len(heat_genes), n_cells))
for i, row in enumerate(heat_rows):
    for s in row:
        if len(s) == 2:
            heat[i, s[0]:s[0] + 2] = s[1]
        else:
            heat[i, s[0]:s[1]] = s[2]
reds = LinearSegmentedColormap.from_list("heat_red", [(0, "#FFFFFF"), (0.17, "#FEE0DB"), (0.42, "#F8A99C"), (0.67, "#E77565"), (1, "#C9252B")])
ax = px_axes(921, 933, 1727, 1614)
ax.imshow(heat, cmap=reds, vmin=0, vmax=6, aspect='auto', interpolation='nearest', extent=(0, n_cells, len(heat_genes), 0))
ax.axis('off')
for i, gene in enumerate(heat_genes):
    ax.text(-6, i + 0.5, gene, fontsize=9.1, color='#4d4d4d', ha='right', va='center', clip_on=False)

bar_ax = px_axes(921, 905, 1727, 919)
bar_ax.set_xlim(0, n_cells)
bar_ax.set_ylim(0, 1)
bar_ax.axis('off')
for (a, b), col, name in zip(group_cells, set1, celltypes):
    bar_ax.barh(0.5, b - a, left=a, height=1, color=col, lw=0)
    bar_ax.text((a + b) / 2 + 17, 1.2, name, fontsize=16.4, rotation=45, ha='left', va='bottom', rotation_mode='anchor', clip_on=False)

# expression legend
ov.text(1763, 1025, "Expression", fontsize=10.9, ha='left', va='center')
lax = px_axes(1762, 1054, 1787, 1174)
lax.imshow(np.linspace(6, 0, 200)[:, None], cmap=reds, vmin=0, vmax=6, aspect='auto', extent=(0, 1, 0, 6))
lax.set_xticks([])
lax.set_yticks([])
for sp in lax.spines.values():
    sp.set_visible(False)
for v in [1, 2, 3, 4, 5]:
    lax.plot([0, 0.12], [v, v], color='white', lw=0.7)
    lax.plot([0.88, 1], [v, v], color='white', lw=0.7)
lax.set_xlim(0, 1)
lax.set_ylim(0, 6)
for v in range(7):
    ov.text(1807, 1176 - v * 21, str(v), fontsize=10.6, ha='center', va='center')

for i, name in enumerate(celltypes):
    y = 1242 + i * 24.4
    ov.plot([1767], [y], 'o', ms=6.7, color=set1[i], mew=0)
    ov.text(1771, y, name, fontsize=9.1, ha='left', va='center')

fig.savefig("out.png", dpi=100)
